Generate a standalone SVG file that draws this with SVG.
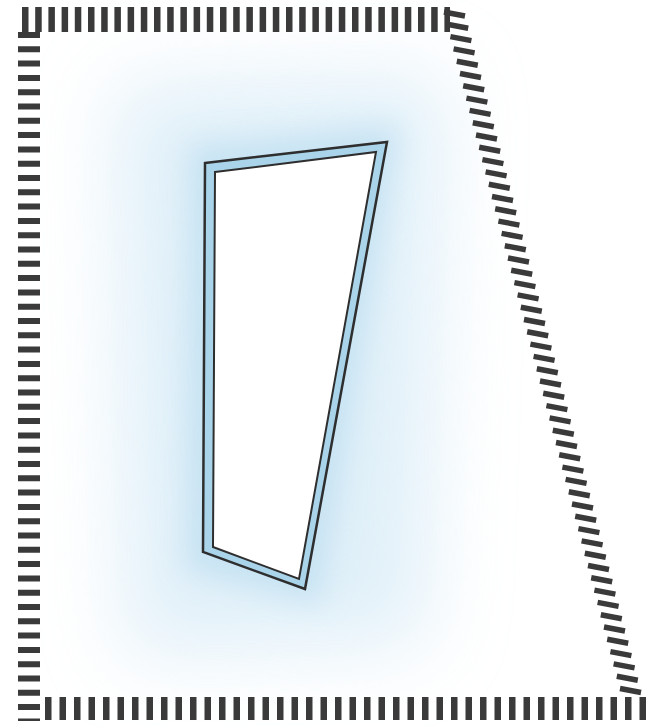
<svg xmlns="http://www.w3.org/2000/svg" width="650" height="727" viewBox="0 0 650 727">
<defs>
<filter id="blurBig" x="-50%" y="-50%" width="200%" height="200%"><feGaussianBlur stdDeviation="40"/></filter>
<filter id="blurSmall" x="-50%" y="-50%" width="200%" height="200%"><feGaussianBlur stdDeviation="14"/></filter>
</defs>
<style>
.wall{fill:none;stroke:#3a3a3a;stroke-linecap:butt}
.frameOut{fill:#a9d4ea;stroke:#2e2e2e;stroke-width:2.5;stroke-linejoin:miter}
.frameIn{fill:#ffffff;stroke:#2e2e2e;stroke-width:2;stroke-linejoin:miter}
</style>
<rect width="650" height="727" fill="#ffffff"/>
<g id="haze">
<polygon points="115,85 445,75 425,645 125,655" fill="#d3e9f6" opacity="0.7" filter="url(#blurBig)"/>
<polygon points="190,145 400,125 320,605 185,570" fill="#bfdff1" opacity="0.75" filter="url(#blurSmall)"/>
</g>
<g id="wall">
<line class="wall" x1="22" y1="19.5" x2="450" y2="19.5" stroke-width="25" stroke-dasharray="6.5 6.7"/>
<line class="wall" x1="29" y1="32" x2="29" y2="721" stroke-width="22" stroke-dasharray="6 8.3"/>
<line class="wall" x1="45" y1="708.5" x2="646" y2="708.5" stroke-width="23" stroke-dasharray="6.5 8"/>
<path class="wall" stroke-width="5.5" stroke-linecap="round" d="M444 12
l21 4m-17.8 8.3l21 4m-17.8 8.3l21 4m-17.8 8.3l21 4m-17.8 8.3l21 4m-17.8 8.3
l21 4m-17.8 8.3l21 4m-17.8 8.3l21 4m-17.8 8.3l21 4m-17.8 8.3l21 4m-17.8 8.3
l21 4m-17.8 8.3l21 4m-17.8 8.3l21 4m-17.8 8.3l21 4m-17.8 8.3l21 4m-17.8 8.3
l21 4m-17.8 8.3l21 4m-17.8 8.3l21 4m-17.8 8.3l21 4m-17.8 8.3l21 4m-17.8 8.3
l21 4m-17.8 8.3l21 4m-17.8 8.3l21 4m-17.8 8.3l21 4m-17.8 8.3l21 4m-17.8 8.3
l21 4m-17.8 8.3l21 4m-17.8 8.3l21 4m-17.8 8.3l21 4m-17.8 8.3l21 4m-17.8 8.3
l21 4m-17.8 8.3l21 4m-17.8 8.3l21 4m-17.8 8.3l21 4m-17.8 8.3l21 4m-17.8 8.3
l21 4m-17.8 8.3l21 4m-17.8 8.3l21 4m-17.8 8.3l21 4m-17.8 8.3l21 4m-17.8 8.3
l21 4m-17.8 8.3l21 4m-17.8 8.3l21 4m-17.8 8.3l21 4m-17.8 8.3l21 4m-17.8 8.3
l21 4m-17.8 8.3l21 4m-17.8 8.3l21 4m-17.8 8.3l21 4m-17.8 8.3l21 4m-17.8 8.3
l21 4m-17.8 8.3l21 4m-17.8 8.3l21 4m-17.8 8.3l21 4m-17.8 8.3l21 4m-17.8 8.3
l21 4"/>
</g>
<g id="window">
<polygon class="frameOut" points="205,163 387,142 305,589 203,552"/>
<polygon class="frameIn" points="215,172 376,152 299,579 213,547"/>
</g>
</svg>
